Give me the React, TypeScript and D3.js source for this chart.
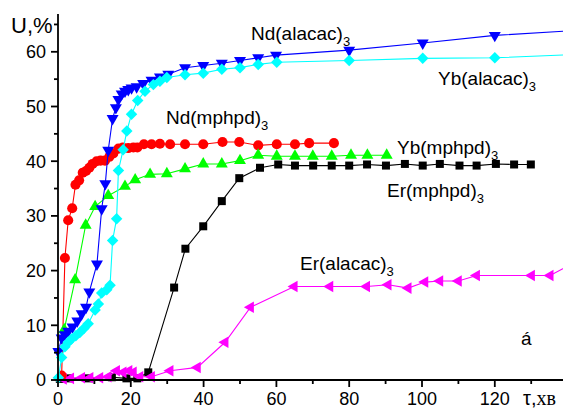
import React from 'react';
import * as d3 from 'd3';

// Extraction degree U (%) versus time τ (min) for six complexes
const ndAlacac: [number, number][] = [
  [0.1, 5.2], [1.0, 7.7], [1.9, 8.3], [2.8, 8.9], [4.0, 9.7], [5.3, 10.8], [6.5, 12.1],
  [7.7, 13.3], [8.6, 16.1], [10.7, 21.2], [12.0, 31.3], [13.0, 35.9], [13.8, 42.0],
  [15.0, 47.8], [15.9, 49.8], [16.6, 51.3], [17.5, 52.3], [18.4, 52.8], [19.3, 53.1],
  [20.2, 53.4], [21.6, 53.6], [23.4, 54.2], [25.7, 54.8], [28.0, 55.4], [30.3, 55.9],
  [34.9, 57.1], [39.9, 57.5], [45.0, 57.9], [50.0, 58.4], [55.0, 58.9], [59.9, 59.4],
  [80.0, 60.3], [100.2, 61.6], [120.0, 63.0], [142.0, 63.9],
];

const ybAlacac: [number, number][] = [
  [0.1, 0.4], [1.0, 4.1], [1.9, 6.1], [2.8, 6.9], [3.7, 7.5], [4.9, 8.1], [6.0, 8.7],
  [7.1, 9.4], [8.3, 10.3], [10.2, 12.8], [11.1, 13.9], [12.0, 15.9], [13.4, 16.5],
  [14.3, 17.3], [15.0, 25.5], [16.1, 29.5], [16.6, 38.3], [17.9, 42.1], [18.9, 45.5],
  [20.2, 48.6], [21.9, 51.1], [23.9, 52.8], [26.2, 54.0], [28.0, 54.6], [29.9, 55.3],
  [34.9, 55.8], [39.9, 56.1], [45.0, 56.8], [50.0, 57.1], [55.0, 57.7], [60.1, 58.1],
  [80.0, 58.4], [100.2, 58.8], [120.0, 58.9], [142.0, 59.5],
];

const ndMphpd: [number, number][] = [
  [1.0, 0.8], [1.9, 22.3], [2.8, 29.2], [3.9, 31.4], [4.8, 35.7], [5.8, 36.5], [6.8, 37.9],
  [7.7, 38.2], [8.6, 38.8], [9.5, 39.5], [10.6, 40.0], [11.7, 40.1], [12.9, 40.1],
  [14.1, 40.8], [15.2, 41.4], [16.6, 42.3], [17.8, 42.5], [19.3, 42.4], [20.7, 42.5],
  [21.8, 42.5], [23.6, 43.1], [25.7, 43.1], [28.0, 43.2], [30.8, 43.1], [34.9, 43.1],
  [39.9, 43.1], [45.2, 43.5], [49.8, 43.5], [55.0, 42.9], [60.1, 43.1], [65.1, 43.1],
  [69.0, 43.3], [75.8, 43.3],
];

const ybMphpd: [number, number][] = [
  [1.7, 9.2], [4.7, 18.3], [7.6, 28.3], [10.2, 31.7], [13.8, 33.7], [18.4, 35.4],
  [21.2, 36.6], [25.3, 37.6], [29.9, 37.7], [34.9, 38.6], [39.9, 39.5], [45.0, 39.5],
  [50.0, 40.1], [55.0, 41.1], [60.1, 40.9], [65.1, 40.9], [70.0, 40.9], [75.2, 40.9],
  [80.5, 41.1], [85.0, 41.1], [90.3, 41.1],
];

const erMphpd: [number, number][] = [
  [0.5, 0.2], [3.0, 0.3], [8.3, 0.3], [14.8, 0.5], [18.8, 0.3], [21.8, 0.3], [24.8, 1.4],
  [31.9, 16.9], [35.0, 24.0], [39.9, 28.1], [45.0, 32.7], [49.8, 36.9], [55.5, 38.8],
  [60.5, 39.4], [65.1, 39.2], [70.1, 39.2], [75.2, 39.2], [80.0, 39.2], [84.9, 39.4],
  [90.1, 39.2], [95.3, 39.5], [100.2, 39.2], [104.9, 39.5], [110.3, 39.2], [115.0, 39.2],
  [120.3, 39.5], [125.3, 39.4], [129.9, 39.4],
];

const erAlacac: [number, number][] = [
  [1.5, 0.2], [3.5, 0.3], [6.5, 0.4], [8.8, 0.4], [11.5, 0.4], [13.8, 0.6], [16.1, 1.7],
  [17.9, 1.4], [19.5, 1.7], [20.7, 1.4], [22.5, 0.6], [25.7, 0.6], [30.8, 1.7],
  [38.3, 2.3], [45.9, 6.9], [52.9, 13.3], [64.9, 17.1], [74.7, 17.1], [84.8, 17.1],
  [90.7, 17.4], [96.2, 16.8], [100.8, 17.9], [104.9, 18.1], [110.0, 18.1], [115.0, 19.1],
  [130.1, 19.1], [135.2, 19.1], [141.0, 21.2],
];

const xMajorTicks = [0, 20, 40, 60, 80, 100, 120];
const xMinorTicks = [10, 30, 50, 70, 90, 110, 130];
const yMajorTicks = [0, 10, 20, 30, 40, 50, 60];
const yMinorTicks = [5, 15, 25, 35, 45, 55, 65];

const W = 563;
const H = 409;
const SANS = 'Arial, "Liberation Sans", Helvetica, sans-serif';
const SERIF = '"Times New Roman", "Liberation Serif", serif';

type Marker = 'circle' | 'square' | 'diamond' | 'triUp' | 'triDown' | 'triLeft';

interface SeriesDef {
  data: [number, number][];
  color: string;
  marker: Marker;
}

const series: SeriesDef[] = [
  { data: erMphpd, color: '#000000', marker: 'square' },
  { data: erAlacac, color: '#ff00ff', marker: 'triLeft' },
  { data: ndMphpd, color: '#ff0000', marker: 'circle' },
  { data: ybMphpd, color: '#00ff00', marker: 'triUp' },
  { data: ndAlacac, color: '#0000ff', marker: 'triDown' },
  { data: ybAlacac, color: '#00ffff', marker: 'diamond' },
];

function markerPath(m: Marker): { d: string; rotate: number } {
  switch (m) {
    case 'circle':
      return { d: d3.symbol().type(d3.symbolCircle).size(80)() as string, rotate: 0 };
    case 'square':
      return { d: d3.symbol().type(d3.symbolSquare).size(64)() as string, rotate: 0 };
    case 'diamond':
      return { d: d3.symbol().type(d3.symbolSquare).size(66)() as string, rotate: 45 };
    case 'triUp':
      return { d: d3.symbol().type(d3.symbolTriangle).size(62)() as string, rotate: 0 };
    case 'triDown':
      return { d: d3.symbol().type(d3.symbolTriangle).size(62)() as string, rotate: 180 };
    case 'triLeft':
      return { d: d3.symbol().type(d3.symbolTriangle).size(58)() as string, rotate: -90 };
  }
}

function Label({ x, y, text, sub }: { x: number; y: number; text: string; sub: string }) {
  return (
    <text x={x} y={y} fontFamily={SANS} fontSize={19} fill="#000">
      {text}
      <tspan fontSize={13} dy={6}>{sub}</tspan>
    </text>
  );
}

export default function App() {
  const x = d3.scaleLinear().domain([0, 140]).range([58, 58 + 3.64 * 140]);
  const y = d3.scaleLinear().domain([0, 60]).range([380, 51.8]);
  const line = d3
    .line<[number, number]>()
    .x((d) => x(d[0]))
    .y((d) => y(d[1]));

  const x0 = x(0);
  const y0 = y(0);

  return (
    <svg
      width={W}
      height={H}
      viewBox={`0 0 ${W} ${H}`}
      style={{ position: 'absolute', left: 0, top: 0, background: '#fff' }}
    >
      <defs>
        <clipPath id="plot-area">
          <rect x={0} y={0} width={W} height={H} />
        </clipPath>
      </defs>

      {/* data series */}
      <g clipPath="url(#plot-area)">
        {series.map((s, i) => {
          const mk = markerPath(s.marker);
          return (
            <g key={i}>
              <path d={line(s.data) ?? ''} fill="none" stroke={s.color} strokeWidth={1.1} />
              {s.data.map((d, j) => (
                <path
                  key={j}
                  d={mk.d}
                  fill={s.color}
                  transform={`translate(${x(d[0])},${y(d[1])}) rotate(${mk.rotate})`}
                />
              ))}
            </g>
          );
        })}
      </g>

      {/* axes */}
      <g stroke="#000" strokeWidth={1.8} fill="none">
        <line x1={x0} y1={14} x2={x0} y2={y0 + 0.9} />
        <line x1={x0 - 0.9} y1={y0} x2={W} y2={y0} />
        {yMajorTicks.map((t) => (
          <line key={`ym${t}`} x1={x0 - 7} y1={y(t)} x2={x0} y2={y(t)} />
        ))}
        {yMinorTicks.map((t) => (
          <line key={`yn${t}`} x1={x0 - 4} y1={y(t)} x2={x0} y2={y(t)} />
        ))}
        {xMajorTicks.map((t) => (
          <line key={`xm${t}`} x1={x(t)} y1={y0} x2={x(t)} y2={y0 + 7} />
        ))}
        {xMinorTicks.map((t) => (
          <line key={`xn${t}`} x1={x(t)} y1={y0} x2={x(t)} y2={y0 + 4} />
        ))}
      </g>

      {/* tick labels */}
      <g fontFamily={SANS} fontSize={18} fill="#000">
        {yMajorTicks.map((t) => (
          <text key={`yl${t}`} x={x0 - 12} y={y(t)} dy="0.35em" textAnchor="end">
            {t}
          </text>
        ))}
        {xMajorTicks.map((t) => (
          <text key={`xl${t}`} x={x(t)} y={405} textAnchor="middle">
            {t}
          </text>
        ))}
      </g>

      {/* axis titles */}
      <text x={11} y={33} fontFamily={SANS} fontSize={22} fill="#000">
        U,%
      </text>
      <text x={523} y={405} fontSize={20} fill="#000">
        <tspan fontFamily={SANS}>τ,</tspan>
        <tspan fontFamily={SERIF} fontSize={20}>хв</tspan>
      </text>

      {/* series labels */}
      <Label x={251} y={40} text="Nd(alacac)" sub="3" />
      <Label x={438} y={85} text="Yb(alacac)" sub="3" />
      <Label x={166} y={124} text="Nd(mphpd)" sub="3" />
      <Label x={397} y={154} text="Yb(mphpd)" sub="3" />
      <Label x={387} y={197} text="Er(mphpd)" sub="3" />
      <Label x={300} y={270} text="Er(alacac)" sub="3" />
      <text x={521} y={345} fontFamily={SANS} fontSize={19} fill="#000">
        á
      </text>
    </svg>
  );
}
